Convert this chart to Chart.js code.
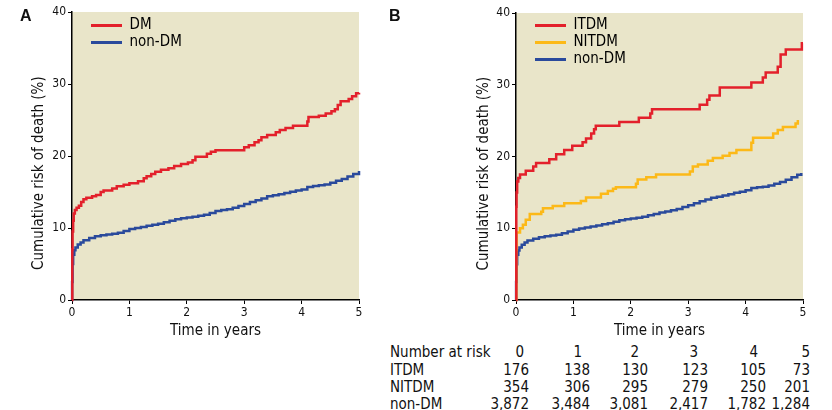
<!DOCTYPE html>
<html>
<head>
<meta charset="utf-8">
<script src="https://cdn.jsdelivr.net/npm/chart.js@4"></script>
<style>
  body { margin: 0; background: #fff; width: 832px; height: 410px; position: relative; overflow: hidden;
         font-family: "Liberation Sans Narrow", "DejaVu Sans Condensed", sans-serif; color: #111; }
  canvas { position: absolute; top: 0; }
  #cA { left: 0; }
  #cB { left: 380px; }
  .panel { position: absolute; top: 7px; font: bold 16px "Liberation Sans", Arial, sans-serif; }
  .cell { position: absolute; font-size: 15px; line-height: 17px; white-space: nowrap; }
</style>
</head>
<body>
<canvas id="cA" width="380" height="340"></canvas>
<canvas id="cB" width="452" height="340"></canvas>
<div class="panel" style="left:20px">A</div>
<div class="panel" style="left:389px">B</div>
<div id="risk"></div>
<script>
// Panel A: DM vs non-DM (years, cumulative %)
const dmTime = [0, 0.005, 0.01, 0.02, 0.03, 0.05, 0.08, 0.12, 0.16, 0.2, 0.25, 0.35, 0.42, 0.5, 0.55, 0.7, 0.78, 0.9, 1.0, 1.15, 1.25, 1.3, 1.38, 1.45, 1.55, 1.68, 1.78, 1.9, 2.02, 2.1, 2.15, 2.35, 2.42, 2.5, 3.0, 3.08, 3.18, 3.25, 3.3, 3.4, 3.55, 3.62, 3.72, 3.85, 4.1, 4.12, 4.3, 4.42, 4.52, 4.58, 4.63, 4.68, 4.82, 4.88, 4.95, 5.0];
const dmRisk = [0, 7, 9.5, 11, 12, 12.5, 12.8, 13.1, 13.6, 14.0, 14.2, 14.4, 14.6, 15.0, 15.2, 15.5, 15.8, 16.0, 16.2, 16.5, 16.9, 17.2, 17.5, 17.8, 18.1, 18.3, 18.6, 18.9, 19.1, 19.4, 19.9, 20.3, 20.6, 20.8, 21.2, 21.5, 21.9, 22.2, 22.6, 22.9, 23.3, 23.6, 23.9, 24.2, 24.8, 25.4, 25.6, 25.9, 26.2, 26.5, 27.1, 27.6, 27.9, 28.3, 28.7, 28.8];

const nonDmTime = [0, 0.002, 0.01, 0.02, 0.04, 0.06, 0.1, 0.15, 0.2, 0.3, 0.4, 0.5, 0.6, 0.7, 0.8, 0.9, 1.0, 1.1, 1.2, 1.3, 1.4, 1.5, 1.6, 1.7, 1.8, 1.9, 2.0, 2.1, 2.2, 2.3, 2.4, 2.5, 2.6, 2.7, 2.8, 2.9, 3.0, 3.1, 3.2, 3.3, 3.4, 3.5, 3.6, 3.7, 3.8, 3.9, 4.0, 4.1, 4.2, 4.3, 4.4, 4.5, 4.6, 4.7, 4.8, 4.9, 5.0];
const nonDmRisk = [0, 2.5, 5, 6.3, 6.9, 7.3, 7.7, 8.0, 8.3, 8.6, 8.85, 9.0, 9.1, 9.2, 9.35, 9.6, 9.85, 10.0, 10.15, 10.3, 10.45, 10.6, 10.8, 11.0, 11.2, 11.35, 11.45, 11.55, 11.7, 11.85, 12.1, 12.35, 12.5, 12.6, 12.8, 13.05, 13.35, 13.6, 13.85, 14.1, 14.4, 14.55, 14.7, 14.85, 15.05, 15.2, 15.35, 15.7, 15.85, 15.95, 16.05, 16.3, 16.55, 16.8, 17.15, 17.5, 17.9];

// Panel B: ITDM / NITDM / non-DM
const itdmTime = [0, 0.005, 0.01, 0.02, 0.04, 0.07, 0.17, 0.3, 0.35, 0.58, 0.7, 0.84, 0.98, 1.16, 1.22, 1.31, 1.36, 1.39, 1.8, 2.14, 2.34, 2.37, 3.2, 3.33, 3.37, 3.55, 4.1, 4.3, 4.35, 4.56, 4.61, 4.7, 4.98, 5.0];
const itdmRisk = [0, 13, 15, 16.5, 17.0, 17.5, 18.0, 18.6, 19.1, 19.6, 20.3, 20.9, 21.5, 22.0, 22.5, 23.2, 23.8, 24.3, 24.8, 25.4, 26.0, 26.6, 27.2, 27.9, 28.5, 29.6, 30.3, 31.0, 31.7, 32.5, 34.2, 34.9, 35.8, 35.8];

const nitdmTime = [0, 0.005, 0.01, 0.07, 0.12, 0.17, 0.24, 0.44, 0.47, 0.64, 0.84, 1.13, 1.22, 1.48, 1.6, 1.69, 1.74, 2.09, 2.12, 2.27, 2.44, 3.03, 3.08, 3.17, 3.34, 3.43, 3.6, 3.72, 3.84, 4.1, 4.13, 4.48, 4.56, 4.65, 4.87, 4.91];
const nitdmRisk = [0, 7, 9.4, 10.0, 10.5, 11.2, 12.0, 12.3, 12.8, 13.1, 13.5, 13.8, 14.3, 14.8, 15.2, 15.5, 15.7, 16.2, 16.8, 17.1, 17.5, 17.9, 18.6, 18.9, 19.4, 19.8, 20.1, 20.5, 20.9, 21.9, 22.6, 23.2, 23.7, 24.1, 24.6, 25.1];

const nonDmBTime = [0, 0.002, 0.01, 0.02, 0.04, 0.06, 0.1, 0.15, 0.2, 0.3, 0.4, 0.5, 0.6, 0.7, 0.8, 0.9, 1.0, 1.1, 1.2, 1.3, 1.4, 1.5, 1.6, 1.7, 1.8, 1.9, 2.0, 2.1, 2.2, 2.3, 2.4, 2.5, 2.6, 2.7, 2.8, 2.9, 3.0, 3.1, 3.2, 3.3, 3.4, 3.5, 3.6, 3.7, 3.8, 3.9, 4.0, 4.1, 4.2, 4.3, 4.4, 4.5, 4.6, 4.7, 4.8, 4.9, 4.97];
const nonDmBRisk = [0, 2.5, 5, 6.3, 6.9, 7.3, 7.7, 8.0, 8.3, 8.55, 8.75, 8.9, 9.0, 9.1, 9.3, 9.55, 9.8, 9.95, 10.1, 10.25, 10.4, 10.55, 10.7, 10.9, 11.1, 11.25, 11.35, 11.45, 11.6, 11.8, 12.0, 12.2, 12.35, 12.5, 12.7, 12.95, 13.2, 13.5, 13.75, 14.0, 14.25, 14.4, 14.55, 14.75, 14.95, 15.1, 15.3, 15.6, 15.7, 15.8, 15.95, 16.2, 16.45, 16.75, 17.1, 17.45, 17.7];

// Number at risk table
const riskYears = ['0', '1', '2', '3', '4', '5'];
const riskGroups = ['ITDM', 'NITDM', 'non-DM'];
const riskCounts = [
  ['176', '138', '130', '123', '105', '73'],
  ['354', '306', '295', '279', '250', '201'],
  ['3,872', '3,484', '3,081', '2,417', '1,782', '1,284']
];

const RED = '#e3202b', YELLOW = '#fcb918', BLUE = '#2a4a9c', BEIGE = '#e9e5c9';
const FONT = '"Liberation Sans Narrow", "DejaVu Sans Condensed", sans-serif';

const pts = (t, v) => t.map((x, i) => ({ x: x, y: v[i] }));
const line = (label, t, v, color) => ({
  label: label, data: pts(t, v), borderColor: color, backgroundColor: color,
  borderWidth: 2.5, pointRadius: 0, stepped: 'before', fill: false, clip: 4
});

const bgPlugin = {
  id: 'plotBg',
  beforeDraw(chart) {
    const a = chart.chartArea, c = chart.ctx;
    c.save();
    c.fillStyle = BEIGE;
    c.fillRect(a.left, a.top, a.right - a.left, a.bottom - a.top);
    c.restore();
  }
};

// nudge the in-plot legend away from the axes
const legendShift = {
  id: 'legendShift',
  afterLayout(chart) {
    const l = chart.legend;
    if (!l) return;
    l.left += 17; l.right += 17;
    l.top += 16; l.bottom += 16;
  }
};

function options(padL, padT, padR, yWidth) {
  return {
    responsive: false,
    animation: false,
    layout: { padding: { left: padL, top: padT, right: padR, bottom: 0 } },
    plugins: {
      tooltip: { enabled: false },
      legend: {
        position: 'chartArea', align: 'start',
        labels: {
          boxWidth: 31, boxHeight: 3, padding: 2, color: '#111',
          font: { family: FONT, size: 15 },
          generateLabels: (ch) => ch.data.datasets.map((d, i) => ({
            text: d.label, fillStyle: d.borderColor, strokeStyle: d.borderColor,
            lineWidth: 0, datasetIndex: i, hidden: false
          }))
        }
      }
    },
    scales: {
      x: {
        type: 'linear', min: 0, max: 5,
        ticks: { stepSize: 1, color: '#111', padding: 2, font: { family: FONT, size: 12 } },
        grid: { drawOnChartArea: false, tickLength: 4, color: '#000', lineWidth: 1 },
        border: { color: '#000', width: 1.5 },
        title: { display: true, text: 'Time in years', color: '#111', padding: 0,
                 font: { family: FONT, size: 15 } },
        afterFit: (s) => { s.height = 40; }
      },
      y: {
        min: 0, max: 40,
        ticks: { stepSize: 10, color: '#111', padding: 2, font: { family: FONT, size: 12 } },
        grid: { drawOnChartArea: false, tickLength: 4, color: '#000', lineWidth: 1 },
        border: { color: '#000', width: 1.5 },
        title: { display: true, text: 'Cumulative risk of death (%)\u00a0\u00a0\u00a0\u00a0\u00a0\u00a0\u00a0\u00a0', color: '#111',
                 padding: 4, font: { family: FONT, size: 15 } },
        afterFit: (s) => { s.width = yWidth; }
      }
    }
  };
}

new Chart(document.getElementById('cA'), {
  type: 'line',
  data: { datasets: [
    line('DM', dmTime, dmRisk, RED),
    line('non-DM', nonDmTime, nonDmRisk, BLUE)
  ] },
  options: options(26, 12, 21, 46),
  plugins: [bgPlugin, legendShift]
});

new Chart(document.getElementById('cB'), {
  type: 'line',
  data: { datasets: [
    line('ITDM', itdmTime, itdmRisk, RED),
    line('NITDM', nitdmTime, nitdmRisk, YELLOW),
    line('non-DM', nonDmBTime, nonDmBRisk, BLUE)
  ] },
  options: options(91, 13, 29, 45),
  plugins: [bgPlugin, legendShift]
});

// number-at-risk table under panel B
const risk = document.getElementById('risk');
const rowTop = [344, 362, 379, 396];
const headRight = [524, 582, 639, 698, 758, 810];
const numRight = [529, 590, 648, 708, 766, 810];
function cell(text, top, left, right) {
  const d = document.createElement('div');
  d.className = 'cell';
  d.textContent = text;
  d.style.top = top + 'px';
  if (right !== undefined) { d.style.right = (832 - right) + 'px'; } else { d.style.left = left + 'px'; }
  risk.appendChild(d);
}
cell('Number at risk', rowTop[0], 390);
riskYears.forEach((y, i) => cell(y, rowTop[0], 0, headRight[i]));
riskGroups.forEach((g, r) => {
  cell(g, rowTop[r + 1], 390);
  riskCounts[r].forEach((n, i) => cell(n, rowTop[r + 1], 0, numRight[i]));
});
</script>
</body>
</html>
